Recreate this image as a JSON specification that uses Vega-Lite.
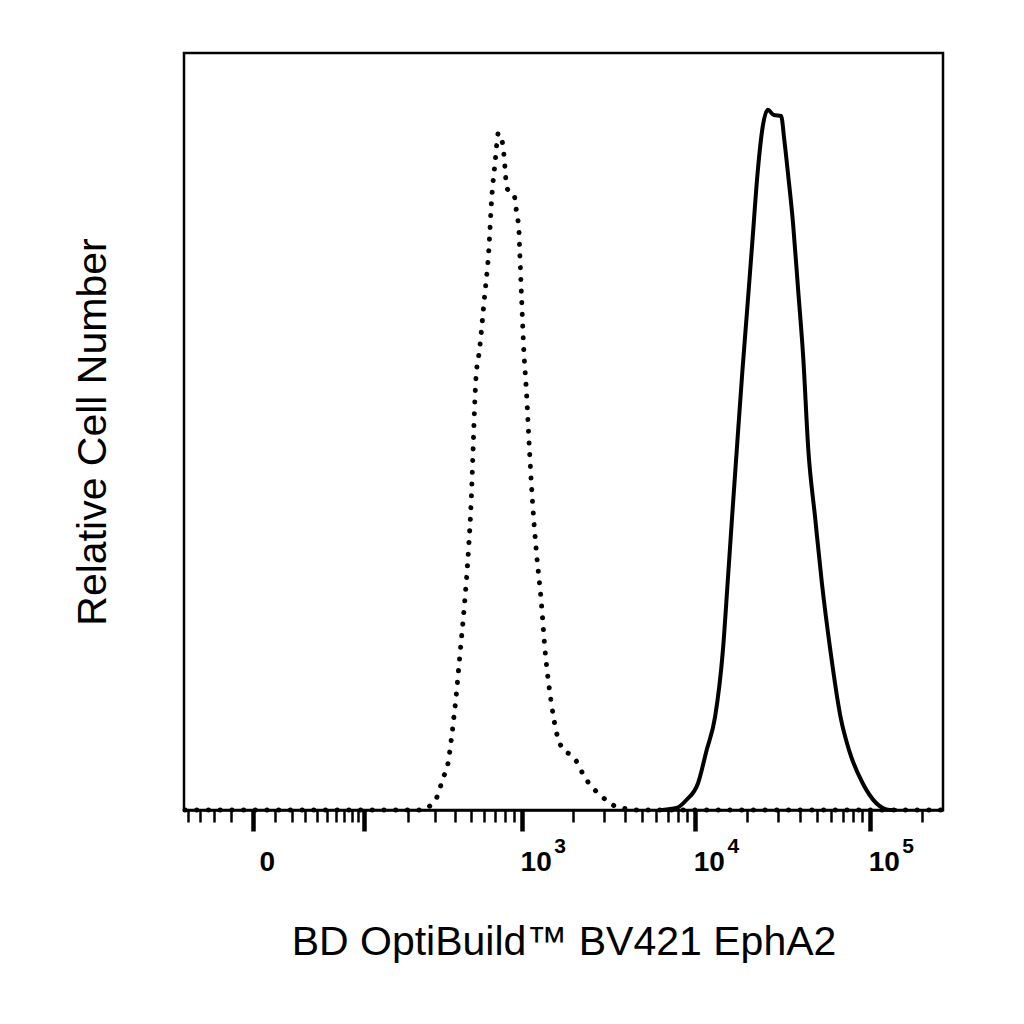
{
  "$schema": "https://vega.github.io/schema/vega-lite/v6.json",
  "autosize": {"type": "none"},
  "padding": {"left": 184, "top": 53, "right": 81, "bottom": 214},
  "width": 759,
  "height": 757,
  "background": "white",
  "config": {
    "view": {"stroke": "black", "strokeWidth": 2.5},
    "font": "Liberation Sans"
  },
  "datasets": {
    "histo": [
      {"sample": "Isotype control", "fluorescence": -43, "cells": 0},
      {"sample": "Isotype control", "fluorescence": 0, "cells": 0},
      {"sample": "Isotype control", "fluorescence": 100, "cells": 0},
      {"sample": "Isotype control", "fluorescence": 200, "cells": 0},
      {"sample": "Isotype control", "fluorescence": 245, "cells": 0},
      {"sample": "Isotype control", "fluorescence": 282, "cells": 0.66},
      {"sample": "Isotype control", "fluorescence": 312, "cells": 1.98},
      {"sample": "Isotype control", "fluorescence": 333, "cells": 3.96},
      {"sample": "Isotype control", "fluorescence": 364, "cells": 6.6},
      {"sample": "Isotype control", "fluorescence": 378, "cells": 9.25},
      {"sample": "Isotype control", "fluorescence": 403, "cells": 14.5},
      {"sample": "Isotype control", "fluorescence": 430, "cells": 21.1},
      {"sample": "Isotype control", "fluorescence": 458, "cells": 27.7},
      {"sample": "Isotype control", "fluorescence": 482, "cells": 34.3},
      {"sample": "Isotype control", "fluorescence": 501, "cells": 40.95},
      {"sample": "Isotype control", "fluorescence": 514, "cells": 47.6},
      {"sample": "Isotype control", "fluorescence": 527, "cells": 54.2},
      {"sample": "Isotype control", "fluorescence": 534, "cells": 56.8},
      {"sample": "Isotype control", "fluorescence": 562, "cells": 60.8},
      {"sample": "Isotype control", "fluorescence": 600, "cells": 67.4},
      {"sample": "Isotype control", "fluorescence": 639, "cells": 74.0},
      {"sample": "Isotype control", "fluorescence": 664, "cells": 80.6},
      {"sample": "Isotype control", "fluorescence": 699, "cells": 85.9},
      {"sample": "Isotype control", "fluorescence": 717, "cells": 88.5},
      {"sample": "Isotype control", "fluorescence": 727, "cells": 89.4},
      {"sample": "Isotype control", "fluorescence": 764, "cells": 88.5},
      {"sample": "Isotype control", "fluorescence": 784, "cells": 86.8},
      {"sample": "Isotype control", "fluorescence": 805, "cells": 83.6},
      {"sample": "Isotype control", "fluorescence": 815, "cells": 82.2},
      {"sample": "Isotype control", "fluorescence": 903, "cells": 81.2},
      {"sample": "Isotype control", "fluorescence": 938, "cells": 78.6},
      {"sample": "Isotype control", "fluorescence": 962, "cells": 76.9},
      {"sample": "Isotype control", "fluorescence": 975, "cells": 73.6},
      {"sample": "Isotype control", "fluorescence": 1000, "cells": 67.4},
      {"sample": "Isotype control", "fluorescence": 1027, "cells": 61.2},
      {"sample": "Isotype control", "fluorescence": 1068, "cells": 55.1},
      {"sample": "Isotype control", "fluorescence": 1111, "cells": 47.6},
      {"sample": "Isotype control", "fluorescence": 1156, "cells": 40.95},
      {"sample": "Isotype control", "fluorescence": 1218, "cells": 34.3},
      {"sample": "Isotype control", "fluorescence": 1301, "cells": 27.7},
      {"sample": "Isotype control", "fluorescence": 1371, "cells": 21.1},
      {"sample": "Isotype control", "fluorescence": 1484, "cells": 14.5},
      {"sample": "Isotype control", "fluorescence": 1585, "cells": 10.6},
      {"sample": "Isotype control", "fluorescence": 1762, "cells": 7.9},
      {"sample": "Isotype control", "fluorescence": 1931, "cells": 7.3},
      {"sample": "Isotype control", "fluorescence": 2119, "cells": 6.2},
      {"sample": "Isotype control", "fluorescence": 2293, "cells": 4.6},
      {"sample": "Isotype control", "fluorescence": 2512, "cells": 3.3},
      {"sample": "Isotype control", "fluorescence": 2793, "cells": 2.2},
      {"sample": "Isotype control", "fluorescence": 3142, "cells": 1.2},
      {"sample": "Isotype control", "fluorescence": 3492, "cells": 0.5},
      {"sample": "Isotype control", "fluorescence": 3877, "cells": 0.26},
      {"sample": "Isotype control", "fluorescence": 4370, "cells": 0},
      {"sample": "Isotype control", "fluorescence": 10000, "cells": 0},
      {"sample": "Isotype control", "fluorescence": 100000, "cells": 0},
      {"sample": "Isotype control", "fluorescence": 262144, "cells": 0},
      {"sample": "EphA2", "fluorescence": 6500, "cells": 0},
      {"sample": "EphA2", "fluorescence": 7850, "cells": 0.26},
      {"sample": "EphA2", "fluorescence": 8955, "cells": 1.32},
      {"sample": "EphA2", "fluorescence": 10450, "cells": 3.57},
      {"sample": "EphA2", "fluorescence": 11690, "cells": 7.9},
      {"sample": "EphA2", "fluorescence": 13070, "cells": 12.3},
      {"sample": "EphA2", "fluorescence": 14490, "cells": 21.1},
      {"sample": "EphA2", "fluorescence": 15420, "cells": 30.0},
      {"sample": "EphA2", "fluorescence": 16350, "cells": 38.7},
      {"sample": "EphA2", "fluorescence": 17470, "cells": 48.2},
      {"sample": "EphA2", "fluorescence": 18690, "cells": 57.7},
      {"sample": "EphA2", "fluorescence": 19990, "cells": 66.4},
      {"sample": "EphA2", "fluorescence": 21390, "cells": 75.3},
      {"sample": "EphA2", "fluorescence": 22870, "cells": 84.1},
      {"sample": "EphA2", "fluorescence": 24450, "cells": 90.2},
      {"sample": "EphA2", "fluorescence": 26130, "cells": 92.5},
      {"sample": "EphA2", "fluorescence": 28400, "cells": 91.8},
      {"sample": "EphA2", "fluorescence": 31170, "cells": 91.7},
      {"sample": "EphA2", "fluorescence": 32520, "cells": 88.5},
      {"sample": "EphA2", "fluorescence": 34120, "cells": 84.1},
      {"sample": "EphA2", "fluorescence": 36480, "cells": 77.5},
      {"sample": "EphA2", "fluorescence": 39010, "cells": 68.7},
      {"sample": "EphA2", "fluorescence": 41710, "cells": 59.8},
      {"sample": "EphA2", "fluorescence": 44590, "cells": 47.6},
      {"sample": "EphA2", "fluorescence": 48740, "cells": 38.7},
      {"sample": "EphA2", "fluorescence": 53300, "cells": 30.0},
      {"sample": "EphA2", "fluorescence": 59590, "cells": 21.1},
      {"sample": "EphA2", "fluorescence": 68110, "cells": 12.3},
      {"sample": "EphA2", "fluorescence": 76200, "cells": 7.9},
      {"sample": "EphA2", "fluorescence": 91040, "cells": 3.57},
      {"sample": "EphA2", "fluorescence": 108800, "cells": 0.92},
      {"sample": "EphA2", "fluorescence": 130300, "cells": 0},
      {"sample": "EphA2", "fluorescence": 140000, "cells": 0}
    ]
  },
  "data": {"name": "histo"},
  "encoding": {
    "y": {
      "field": "cells",
      "type": "quantitative",
      "scale": {"domain": [0, 100], "nice": false},
      "axis": {
        "title": "Relative Cell Number",
        "titleFont": "Liberation Sans",
        "titleFontSize": 41,
        "titleFontWeight": "normal",
        "titleColor": "black",
        "titlePadding": 70,
        "labels": false,
        "ticks": false,
        "domain": false,
        "grid": false
      }
    }
  },
  "layer": [
    {
      "transform": [{"filter": "datum.sample === 'Isotype control'"}],
      "mark": {"type": "line", "interpolate": "monotone", "color": "black", "strokeWidth": 5, "strokeCap": "round", "strokeDash": [0.1, 11.6]},
      "encoding": {
        "x": {
          "field": "fluorescence",
          "type": "quantitative",
          "scale": {"type": "symlog", "constant": 30, "domain": [-44, 262144], "nice": false},
          "axis": {
            "orient": "bottom",
            "title": "BD OptiBuild™ BV421 EphA2",
            "titleFont": "Liberation Sans",
            "titleFontSize": 41,
            "titleFontWeight": "normal",
            "titleColor": "black",
            "titlePadding": 46,
            "values": [-40, -30, -20, -10, 0, 10, 20, 30, 40, 50, 60, 70, 80, 90, 100, 200, 300, 400, 500, 600, 700, 800, 900, 1000, 2000, 3000, 4000, 5000, 6000, 7000, 8000, 9000, 10000, 20000, 30000, 40000, 50000, 60000, 70000, 80000, 90000, 100000, 200000],
            "labelExpr": "datum.value === 0 ? '0' : indexof([1000, 10000, 100000], datum.value) >= 0 ? '10' : ''",
            "labelOverlap": false,
            "labelFlush": false,
            "labelFont": "Liberation Sans",
            "labelFontSize": 28,
            "labelFontWeight": "bold",
            "labelColor": "black",
            "labelPadding": 17,
            "labelOffset": 14,
            "domainColor": "black",
            "domainWidth": 2.5,
            "tickColor": "black",
            "tickSize": {"condition": {"test": "indexof([0, 100, 1000, 10000, 100000], datum.value) >= 0", "value": 21}, "value": 12},
            "tickWidth": {"condition": {"test": "indexof([0, 100, 1000, 10000, 100000], datum.value) >= 0", "value": 4.5}, "value": 2.5},
            "grid": false
          }
        }
      }
    },
    {
      "transform": [{"filter": "datum.sample === 'EphA2'"}],
      "mark": {"type": "line", "interpolate": "monotone", "color": "black", "strokeWidth": 4, "strokeCap": "round", "strokeJoin": "round"},
      "encoding": {
        "x": {
          "field": "fluorescence",
          "type": "quantitative",
          "scale": {"type": "symlog", "constant": 30, "domain": [-44, 262144], "nice": false},
          "axis": {
            "orient": "bottom",
            "title": null,
            "values": [1000, 10000, 100000],
            "labelExpr": "datum.value === 1000 ? '3' : datum.value === 10000 ? '4' : '5'",
            "labelOverlap": false,
            "labelFlush": false,
            "labelFont": "Liberation Sans",
            "labelFontSize": 21,
            "labelFontWeight": "bold",
            "labelColor": "black",
            "labelPadding": 25,
            "labelOffset": 38,
            "ticks": false,
            "tickSize": 0,
            "domain": false,
            "grid": false
          }
        }
      }
    }
  ],
  "resolve": {"scale": {"x": "shared"}, "axis": {"x": "independent"}}
}
